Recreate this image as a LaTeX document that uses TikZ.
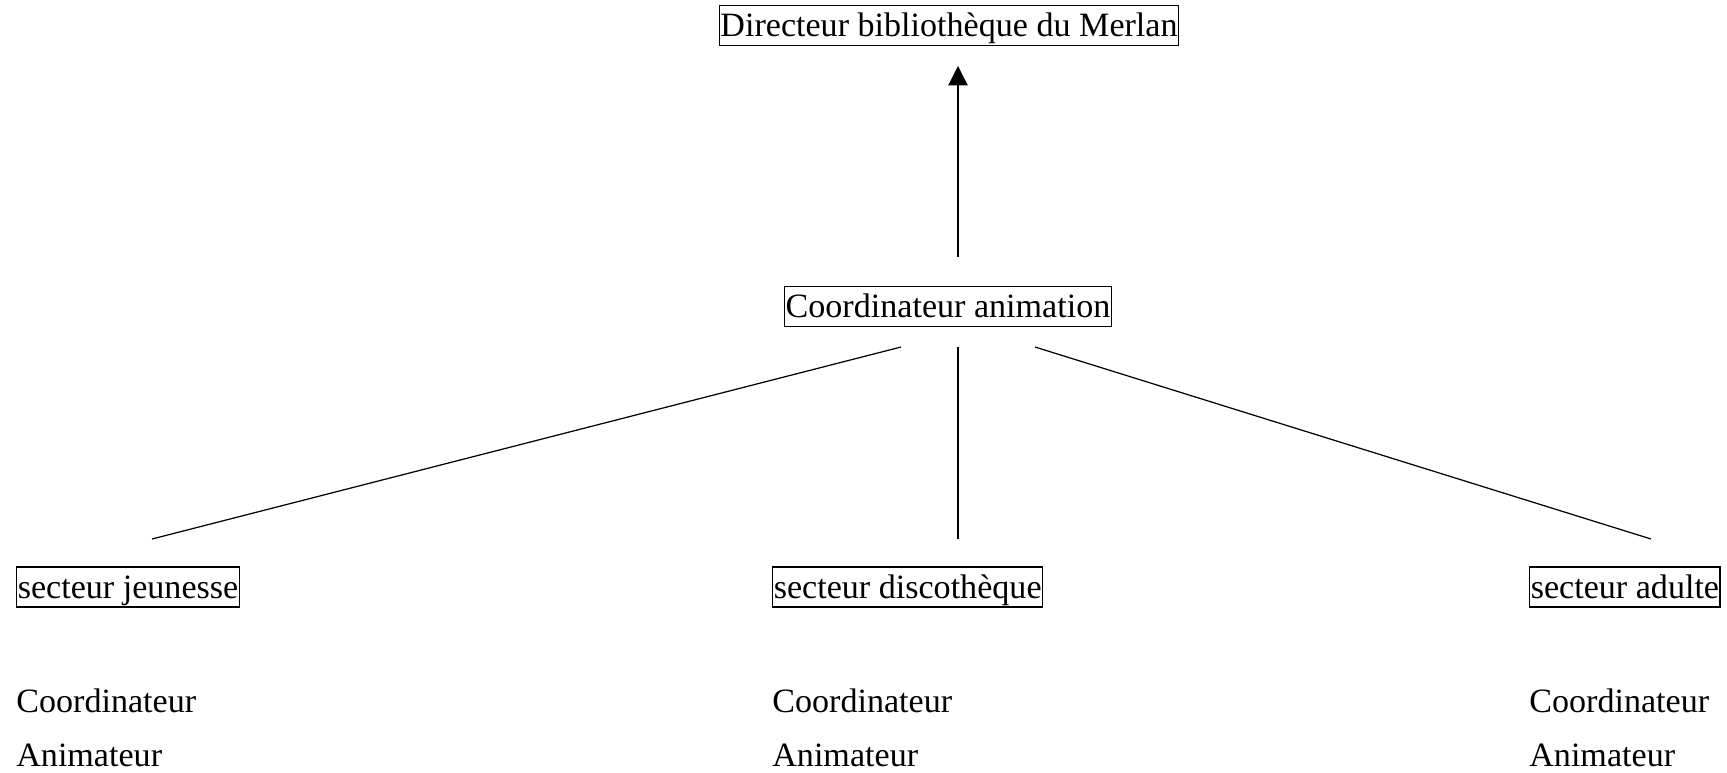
\documentclass[tikz,border=0pt]{standalone}
\usepackage{fontspec}
\setmainfont{Liberation Serif}
\usetikzlibrary{arrows.meta}
\begin{document}
\begin{tikzpicture}[x=0.02cm,y=-0.02cm,every node/.style={font=\fontsize{19.4}{23}\selectfont},
  cadre/.style={draw,line width=0.8pt,inner sep=0.6pt,text height=17.2pt,text depth=4.3pt},
  libre/.style={inner sep=0pt,anchor=base west},
  trait/.style={line width=0.7pt}]
\useasboundingbox (0,0) rectangle (1727,772);
% boxes
\node[cadre] (dir) at (949,25.5) {Directeur bibliothèque du Merlan};
\node[cadre] (anim) at (948,306.5) {Coordinateur animation};
\node[cadre,anchor=west] (jeu) at (16,587) {secteur jeunesse};
\node[cadre,anchor=west] (disco) at (772,587) {secteur discothèque};
\node[cadre,anchor=west] (adu) at (1529,587) {secteur adulte};
% staff of each sector
\node[libre] (jeuC) at (16,712) {Coordinateur};
\node[libre] (jeuA) at (16,766) {Animateur};
\node[libre] (discoC) at (772,712) {Coordinateur};
\node[libre] (discoA) at (772,766) {Animateur};
\node[libre] (aduC) at (1529,712) {Coordinateur};
\node[libre] (aduA) at (1529,766) {Animateur};
% free ends of the connectors
\coordinate (up0) at (958,257);
\coordinate (up1) at (958,66);
\coordinate (l0) at (901,347);
\coordinate (l1) at (152,539);
\coordinate (m0) at (958,347);
\coordinate (m1) at (958,539);
\coordinate (r0) at (1035,347);
\coordinate (r1) at (1651,539);
\draw[trait,-{Triangle[width=11pt,length=11pt]}] (up0) -- (up1);
\draw[trait] (l0) -- (l1);
\draw[trait] (m0) -- (m1);
\draw[trait] (r0) -- (r1);
\end{tikzpicture}
\end{document}
